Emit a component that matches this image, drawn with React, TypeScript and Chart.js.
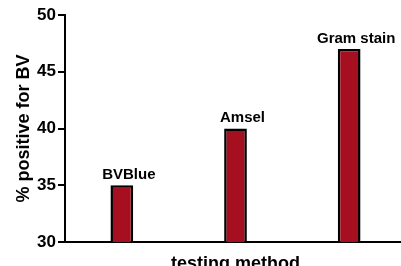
import React, { useEffect, useRef } from "react";
import { Chart, registerables } from "chart.js";

Chart.register(...registerables);

const categories = ["BVBlue", "Amsel", "Gram stain"];
const values = [35, 40, 47];
const yTicks = [30, 35, 40, 45, 50];
const yTitle = "% positive for BV";
const xTitle = "testing method";

const FONT = '"Liberation Sans", Arial, Helvetica, sans-serif';

const barLabels = {
  id: "barLabels",
  afterDatasetsDraw(chart: any) {
    const ctx = chart.ctx;
    const meta = chart.getDatasetMeta(0);
    ctx.save();
    ctx.font = `bold 15px ${FONT}`;
    ctx.fillStyle = "#000";
    ctx.textAlign = "center";
    ctx.textBaseline = "bottom";
    meta.data.forEach((bar: any, i: number) => {
      ctx.fillText(categories[i], bar.x + 7, bar.y - 3);
    });
    ctx.restore();
  },
};

export default function App() {
  const ref = useRef<HTMLCanvasElement>(null);
  useEffect(() => {
    if (!ref.current) return;
    const chart = new Chart(ref.current, {
      type: "bar",
      data: {
        labels: categories,
        datasets: [
          {
            data: values,
            backgroundColor: "#A50F1F",
            borderColor: "#000",
            borderWidth: 2.5,
            borderSkipped: false,
            barPercentage: 0.2,
            categoryPercentage: 1,
          },
        ],
      },
      options: {
        responsive: false,
        animation: false,
        events: [],
        layout: { padding: { left: 0, top: 15, right: 0, bottom: 0 } },
        plugins: { legend: { display: false }, tooltip: { enabled: false } },
        scales: {
          x: {
            offset: true,
            ticks: { display: false },
            grid: { display: false },
            border: { display: true, color: "#000", width: 2 },
            title: {
              display: true,
              text: xTitle,
              color: "#000",
              font: { family: FONT, size: 18, weight: "bold" },
              padding: 0,
            },
            afterFit(scale: any) {
              scale.height = 33;
            },
          },
          y: {
            min: 30,
            max: 50,
            afterBuildTicks(scale: any) {
              scale.ticks = yTicks.map((v) => ({ value: v }));
            },
            ticks: {
              color: "#000",
              font: { family: FONT, size: 17, weight: "bold" },
              padding: 2,
            },
            grid: {
              drawOnChartArea: false,
              drawTicks: true,
              tickLength: 7,
              color: "#000",
              lineWidth: 2,
            },
            border: { display: true, color: "#000", width: 2 },
            title: {
              display: true,
              text: yTitle,
              color: "#000",
              font: { family: FONT, size: 18, weight: "bold" },
              padding: { top: 13, bottom: 0 },
            },
            afterFit(scale: any) {
              scale.width = 65;
            },
          },
        },
      },
      plugins: [barLabels],
    });
    return () => chart.destroy();
  }, []);
  return (
    <div
      style={{
        position: "fixed",
        left: 0,
        top: 0,
        width: 401,
        height: 266,
        overflow: "hidden",
        background: "#fff",
      }}
    >
      <canvas ref={ref} width={406} height={275} style={{ display: "block" }} />
    </div>
  );
}
